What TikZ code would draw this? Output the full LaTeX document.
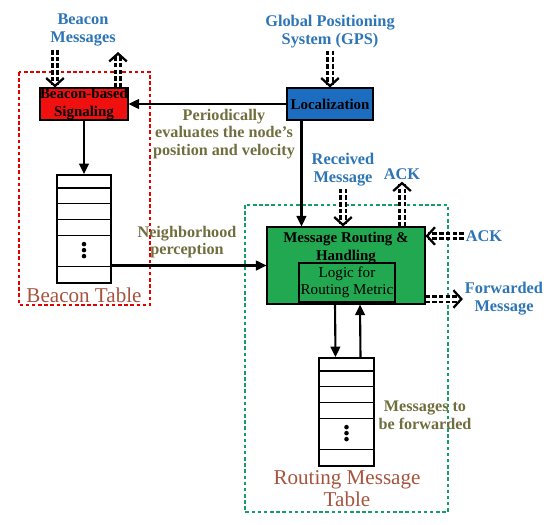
\documentclass[tikz,border=0pt]{standalone}
\usepackage{fontspec}
\setmainfont{Liberation Serif}
\usetikzlibrary{arrows.meta, positioning, calc}

\definecolor{lblblue}{RGB}{46,117,182}
\definecolor{locblue}{RGB}{28,108,192}
\definecolor{notetxt}{RGB}{112,110,62}
\definecolor{ttlbrown}{RGB}{165,84,62}
\definecolor{sigred}{RGB}{240,16,16}
\definecolor{routegreen}{RGB}{34,168,80}
\definecolor{grpgreen}{RGB}{20,160,100}

\begin{document}
\begin{tikzpicture}[
    x=0.02cm, y=-0.02cm,
    box/.style={draw, line width=0.6pt, inner sep=0pt, align=center,
                font=\fontsize{8.5}{9.8}\selectfont\bfseries},
    tab/.style={draw, line width=1pt, inner sep=0pt,
                minimum width=1.08cm, minimum height=2.16cm},
    lbl/.style={align=center, text=lblblue, inner sep=1pt,
                font=\fontsize{9.3}{10.3}\selectfont\bfseries},
    note/.style={align=center, text=notetxt, inner sep=1pt,
                 font=\fontsize{9.2}{10}\selectfont\bfseries},
    ttl/.style={align=center, text=ttlbrown, inner sep=1pt,
                font=\fontsize{12}{12.5}\selectfont},
    flow/.style={-{Triangle[length=6pt,width=5.5pt]}, line width=1.2pt},
    msg/.style={-{Straight Barb[length=4.5pt,width=10pt,line width=1.3pt]},
                dash pattern=on 2.6pt off 1.2pt,
                line width=1.2pt, double, double distance=1.7pt},
    grp/.style={line width=1.2pt, dash pattern=on 2pt off 1.5pt}
  ]
  \useasboundingbox (0,0) rectangle (550,524);

  % groups
  \draw[grp, red!90!black] (19,72) rectangle (150,305);
  \draw[grp, grpgreen] (245,205) rectangle (448,512);

  % boxes
  \node[box, fill=sigred, minimum width=1.76cm, minimum height=0.64cm]
    (sig) at (84,104) {Beacon-based\\Signaling};
  \node[box, fill=locblue, minimum width=1.72cm, minimum height=0.64cm]
    (loc) at (330,104) {Localization};
  \node[box, fill=routegreen, minimum width=3.16cm, minimum height=1.54cm]
    (route) at (346,265.5) {};
  \node[box, draw=none, anchor=north] (routetxt) at (route.north)
    {\rule{0pt}{9pt}Message Routing \&\\Handling};
  \node[draw, line width=1.5pt, fill=routegreen, inner sep=0pt, align=center,
        minimum width=1.92cm, minimum height=0.78cm,
        font=\fontsize{8.6}{9.6}\selectfont] (logic) at (347,282.5)
    {Logic for\\Routing Metric};

  % tables
  \node[tab] (btab) at (84,229) {};
  \node[tab, minimum width=1.1cm] (rtab) at (346.5,412) {};
  \foreach \t in {btab, rtab} {
    \draw[line width=1pt] ($(\t.north west)+(0,14)$) -- ($(\t.north east)+(0,14)$);
    \foreach \d in {29,45,61,92}
      \draw[line width=0.5pt] ($(\t.north west)+(0,\d)$) -- ($(\t.north east)+(0,\d)$);
    \foreach \d in {70,76,82}
      \fill ($(\t.north)+(0,\d)$) circle (1.3pt);
  }

  % labels
  \node[lbl] (bmsg) at (83,30) {Beacon\\Messages};
  \node[lbl] (gps) at (330,32) {Global Positioning\\System (GPS)};
  \node[lbl] (rcv) at (343,170) {Received\\Message};
  \node[lbl] (ackup) at (402,174) {ACK};
  \node[lbl] (ackr) at (484,236) {ACK};
  \node[lbl] (fwd) at (504,299) {Forwarded\\Message};

  \node[note] (period) at (224,134) {Periodically\\evaluates the node's\\position and velocity};
  \node[note] (neigh) at (187,242) {Neighborhood\\perception};
  \node[note] (tofwd) at (425,415) {Messages to\\be forwarded};

  \node[ttl] (btitle) at (84,295) {Beacon Table};
  \node[ttl] (rtitle) at (347,489) {Routing Message\\Table};

  % message arrows
  \coordinate (bin) at (55,50);
  \coordinate (bout) at (118,52);
  \draw[msg] (bin) -- (bin |- sig.north);
  \draw[msg] (bout |- sig.north) -- (bout);
  \draw[msg] (gps.south) -- (loc.north);
  \draw[msg] (rcv.south) -- (rcv.south |- route.north);
  \draw[msg] (ackup.south |- route.north) -- (ackup.south);
  \draw[msg] (ackr.west) -- (ackr.west -| route.east);
  \draw[msg] (route.east |- fwd.west) -- (fwd.west);

  % flows
  \coordinate (locdrop) at ($(loc.south west)+(15,0)$);
  \draw[flow] (loc.west) -- (sig.east);
  \draw[flow] (locdrop) -- (locdrop |- route.north);
  \draw[flow] (sig.south) -- (btab.north);
  \draw[flow] (btab.east |- route.west) -- (route.west);
  \draw[flow] ([xshift=-0.22cm]route.south) -- ([xshift=-0.22cm]rtab.north);
  \draw[flow] ([xshift=0.28cm]rtab.north) -- ([xshift=0.28cm]route.south);
\end{tikzpicture}
\end{document}
